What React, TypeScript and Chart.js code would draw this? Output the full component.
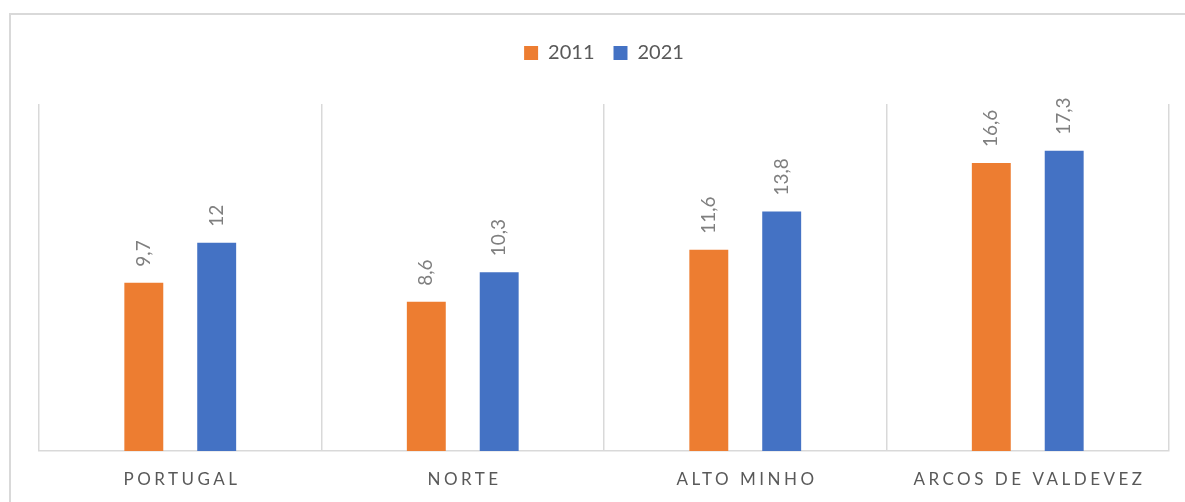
import React, { useEffect, useRef } from "react";
import { Chart, registerables } from "chart.js";

Chart.register(...registerables);

const categories = ["PORTUGAL", "NORTE", "ALTO MINHO", "ARCOS DE VALDEVEZ"];
const series2011 = [9.7, 8.6, 11.6, 16.6];
const series2021 = [12, 10.3, 13.8, 17.3];
const seriesNames = ["2011", "2021"];
const yMin = 0;
const yMax = 20;

const FONT = "Lato, 'Liberation Sans', sans-serif";

const legendSpacePlugin = {
  id: "legendSpace",
  afterInit(chart: any) {
    const lg = chart.legend;
    if (!lg) return;
    const orig = lg.fit.bind(lg);
    lg.fit = function () {
      orig();
      this.height += 31;
    };
  },
};

const valueLabelPlugin = {
  id: "valueLabels",
  afterDatasetsDraw(chart: any) {
    const ctx = chart.ctx;
    ctx.save();
    ctx.font = `19px ${FONT}`;
    ctx.fillStyle = "#7f7f7f";
    ctx.textAlign = "left";
    ctx.textBaseline = "middle";
    chart.data.datasets.forEach((ds: any, di: number) => {
      const meta = chart.getDatasetMeta(di);
      meta.data.forEach((bar: any, i: number) => {
        const v = ds.data[i];
        const txt = String(v).replace(".", ",");
        ctx.save();
        ctx.translate(bar.x, bar.y - 16);
        ctx.rotate(-Math.PI / 2);
        ctx.fillText(txt, 0, 0);
        ctx.restore();
      });
    });
    ctx.restore();
  },
};

const xLabelPlugin = {
  id: "xLabels",
  afterDraw(chart: any) {
    const ctx = chart.ctx;
    const xs = chart.scales.x;
    const spacing = 3.5;
    ctx.save();
    ctx.font = `17px ${FONT}`;
    ctx.fillStyle = "#595959";
    ctx.textAlign = "center";
    ctx.textBaseline = "alphabetic";
    (ctx as any).letterSpacing = `${spacing}px`;
    const labels = chart.data.labels as string[];
    labels.forEach((lab, i) => {
      const x = xs.getPixelForValue(i);
      ctx.fillText(lab, x + spacing / 2, xs.bottom + 34);
    });
    ctx.restore();
  },
};

export default function App() {
  const ref = useRef<HTMLCanvasElement>(null);
  useEffect(() => {
    if (!ref.current) return;
    const chart = new Chart(ref.current, {
      type: "bar",
      data: {
        labels: categories,
        datasets: [
          {
            label: seriesNames[0],
            data: series2011,
            backgroundColor: "#ED7D31",
            borderWidth: 0,
            categoryPercentage: 0.516,
            barPercentage: 0.534,
          },
          {
            label: seriesNames[1],
            data: series2021,
            backgroundColor: "#4472C4",
            borderWidth: 0,
            categoryPercentage: 0.516,
            barPercentage: 0.534,
          },
        ],
      },
      options: {
        responsive: false,
        animation: false,
        devicePixelRatio: 1,
        layout: { padding: { top: 24, left: 39, right: 16, bottom: 51 } },
        plugins: {
          legend: {
            display: true,
            position: "top",
            labels: {
              boxWidth: 14,
              boxHeight: 14,
              padding: 19,
              color: "#595959",
              font: { family: FONT, size: 20 },
            },
          },
          tooltip: { enabled: false },
          title: { display: false },
        },
        scales: {
          x: {
            offset: true,
            grid: {
              display: true,
              offset: true,
              drawTicks: false,
              color: "#d9d9d9",
              lineWidth: 1.5,
            },
            border: { display: true, color: "#d9d9d9", width: 1.5 },
            ticks: { display: false },
          },
          y: {
            display: false,
            min: yMin,
            max: yMax,
          },
        },
      },
      plugins: [legendSpacePlugin, valueLabelPlugin, xLabelPlugin],
    });
    return () => chart.destroy();
  }, []);

  return (
    <div
      style={{
        position: "fixed",
        left: 0,
        top: 0,
        width: 1185,
        height: 502,
        overflow: "hidden",
        background: "#fff",
      }}
    >
      <div
        style={{
          position: "absolute",
          left: 9,
          top: 13,
          width: 1250,
          height: 600,
          border: "2px solid #d9d9d9",
          boxSizing: "border-box",
        }}
      />
      <canvas
        ref={ref}
        width={1185}
        height={502}
        style={{ position: "absolute", left: 0, top: 0, width: 1185, height: 502 }}
      />
    </div>
  );
}
